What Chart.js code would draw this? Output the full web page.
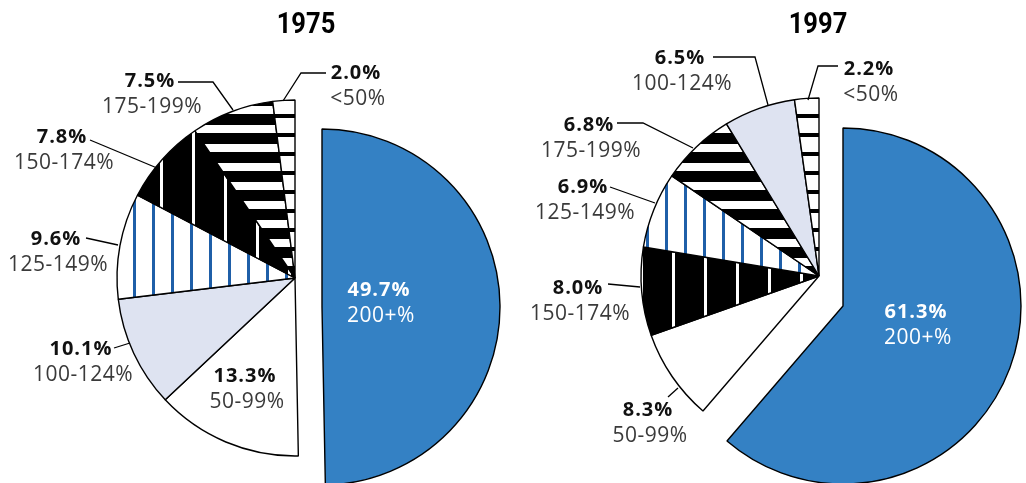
<!DOCTYPE html>
<html>
<head>
<meta charset="utf-8">
<script src="https://cdn.jsdelivr.net/npm/chart.js@4.4.0/dist/chart.umd.min.js"></script>
<style>
    html, body { margin: 0; padding: 0; background: #fff; overflow: hidden; }
    #wrap { position: relative; width: 1026px; height: 483px; overflow: hidden; }
    canvas { position: absolute; left: 0; top: 0; }
</style>
</head>
<body>
<div id="wrap">
    <canvas id="pie-1975" width="1026" height="483"></canvas>
    <canvas id="pie-1997" width="1026" height="483"></canvas>
</div>
<script>
// Data, clockwise from 12 o'clock (first slice is the pulled-out one)
const categories1975 = ['200+%', '50-99%', '100-124%', '125-149%', '150-174%', '175-199%', '<50%'];
const values1975 = [49.7, 13.3, 10.1, 9.6, 7.8, 7.5, 2.0];

const categories1997 = ['200+%', '50-99%', '150-174%', '125-149%', '175-199%', '100-124%', '<50%'];
const values1997 = [61.3, 8.3, 8.0, 6.9, 6.8, 6.5, 2.2];

// Build stripe patterns
function makePattern(w, h, bg, fg, paint) {
    const c = document.createElement('canvas');
    c.width = w;
    c.height = h;
    const x = c.getContext('2d');
    x.fillStyle = bg;
    x.fillRect(0, 0, w, h);
    x.fillStyle = fg;
    paint(x);
    return x.createPattern(c, 'repeat');
}

const fills = {
    '200+%': '#3481c4',
    '50-99%': '#ffffff',
    '100-124%': '#dee3f1',
    '125-149%': makePattern(19, 4, '#ffffff', '#1f5fa8', x => x.fillRect(0, 0, 3, 4)),
    '150-174%': makePattern(32, 4, '#000000', '#ffffff', x => x.fillRect(0, 0, 3, 4)),
    '175-199%': makePattern(4, 19, '#ffffff', '#000000', x => x.fillRect(0, 0, 4, 11)),
    '<50%': makePattern(4, 19, '#ffffff', '#000000', x => x.fillRect(0, 0, 4, 4))
};

// Pull the first slice away from the rest
const explodePlugin = {
    id: 'explode',
    afterDatasetUpdate(chart, args, opts) {
        const arc = args.meta.data[0];
        if (arc) {
            arc.x += opts.dx;
            arc.y += opts.dy;
        }
    }
};

// Title, slice labels and leader lines
const labelPlugin = {
    id: 'sliceLabels',
    afterDraw(chart, args, opts) {
        const ctx = chart.ctx;
        const values = chart.data.datasets[0].data;
        ctx.save();
        ctx.textAlign = 'center';
        ctx.textBaseline = 'middle';

        // condensed-looking title
        ctx.save();
        ctx.translate(opts.titleX, 26);
        ctx.scale(0.88, 1);
        ctx.fillStyle = '#000';
        ctx.font = 'bold 29px "Roboto", sans-serif';
        ctx.fillText(opts.title, 0, 0);
        ctx.restore();

        ctx.strokeStyle = '#000';
        ctx.lineWidth = 1.3;
        chart.data.labels.forEach((cat, i) => {
            const spot = opts.spots[cat];
            if (!spot) return;
            const color = spot.light ? '#ffffff' : '#111111';
            const soft = spot.light ? '#ffffff' : '#3a3a3a';
            ctx.letterSpacing = '1px';
            ctx.font = 'bold 20px "Open Sans", sans-serif';
            ctx.fillStyle = color;
            ctx.fillText(values[i].toFixed(1) + '%', spot.x, spot.y);
            ctx.letterSpacing = '0.5px';
            ctx.font = '21px "Open Sans", sans-serif';
            ctx.fillStyle = soft;
            ctx.fillText(cat, spot.x + 2, spot.y + 26);

            if (spot.line) {
                ctx.beginPath();
                spot.line.forEach((pt, k) => {
                    if (k === 0) ctx.moveTo(pt[0], pt[1]);
                    else ctx.lineTo(pt[0], pt[1]);
                });
                ctx.stroke();
            }
        });
        ctx.restore();
    }
};

function makePie(canvasId, categories, values, padding, shift, labelOpts) {
    const ctx = document.getElementById(canvasId).getContext('2d');
    return new Chart(ctx, {
        type: 'pie',
        data: {
            labels: categories,
            datasets: [{
                data: values,
                backgroundColor: categories.map(c => fills[c]),
                borderColor: '#000000',
                borderWidth: 1.4
            }]
        },
        options: {
            responsive: false,
            animation: false,
            devicePixelRatio: 1,
            radius: 178,
            layout: { padding: padding },
            plugins: {
                legend: { display: false },
                tooltip: { enabled: false },
                explode: shift,
                sliceLabels: labelOpts
            }
        },
        plugins: [explodePlugin, labelPlugin]
    });
}

makePie('pie-1975', categories1975, values1975,
    { left: 0, right: 436, top: 73, bottom: 0 },
    { dx: 27, dy: 29 },
    {
        title: '1975',
        titleX: 306,
        spots: {
            '200+%': { x: 379, y: 290, light: true },
            '50-99%': { x: 245, y: 376 },
            '100-124%': { x: 81, y: 349, line: [[114, 348], [130, 343]] },
            '125-149%': { x: 56, y: 239, line: [[86, 238], [118, 245]] },
            '150-174%': { x: 62, y: 137, line: [[90, 140], [157, 168]] },
            '175-199%': { x: 150, y: 81, line: [[178, 82], [213, 82], [233, 110]] },
            '<50%': { x: 356, y: 73, line: [[326, 73], [301, 73], [283, 101]] }
        }
    });

makePie('pie-1997', categories1997, values1997,
    { left: 612, right: 0, top: 69, bottom: 0 },
    { dx: 24, dy: 30 },
    {
        title: '1997',
        titleX: 818,
        spots: {
            '200+%': { x: 916, y: 312, light: true },
            '50-99%': { x: 648, y: 410, line: [[668, 397], [678, 388]] },
            '150-174%': { x: 578, y: 288, line: [[608, 284], [640, 287]] },
            '125-149%': { x: 583, y: 187, line: [[610, 187], [655, 203]] },
            '175-199%': { x: 589, y: 125, line: [[617, 123], [643, 123], [693, 148]] },
            '100-124%': { x: 680, y: 58, line: [[713, 57], [755, 57], [768, 105]] },
            '<50%': { x: 869, y: 69, line: [[838, 66], [818, 66], [808, 100]] }
        }
    });
</script>
</body>
</html>
